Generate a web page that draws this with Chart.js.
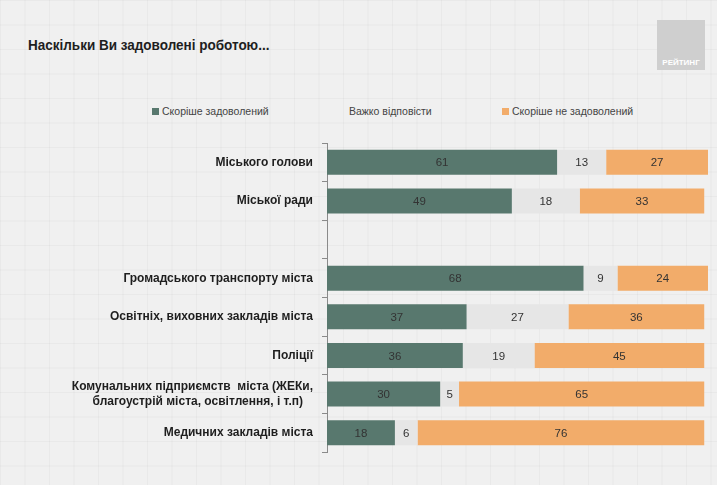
<!DOCTYPE html>
<html>
<head>
<meta charset="utf-8">
<script src="https://cdn.jsdelivr.net/npm/chart.js@4.4.1/dist/chart.umd.min.js"></script>
<style>
  html, body { margin: 0; padding: 0; }
  body {
    width: 717px; height: 485px; position: relative; overflow: hidden;
    background-color: #f0f0f0;
    background-image:
      linear-gradient(to right, rgba(0,0,0,0.03) 1px, transparent 1px),
      linear-gradient(to bottom, rgba(0,0,0,0.03) 1px, transparent 1px);
    background-size: 24.5px 24.5px;
    font-family: "Liberation Sans", Arial, sans-serif;
  }
  #title { position: absolute; left: 28px; top: 36px; font-size: 15px; font-weight: bold; color: #1e1e1e;
           transform: scaleX(0.9); transform-origin: left top; white-space: nowrap; }
  #logo { position: absolute; left: 657px; top: 20px; width: 48px; height: 50px; background: #cfcfcf; }
  #logo span { position: absolute; bottom: 3px; left: 0; right: 0; text-align: center; color: #fff; font-size: 8px; font-weight: bold; }
  .lg { position: absolute; top: 105px; font-size: 10.5px; color: #444; white-space: nowrap; }
  .lg i { display: inline-block; width: 7px; height: 7px; margin-right: 3px; vertical-align: 0px; }
  #grafica { position: absolute; left: 0; top: 0; }
</style>
</head>
<body>
<div id="title">Наскільки Ви задоволені роботою...</div>
<div id="logo"><span>РЕЙТИНГ</span></div>
<div id="legend"></div>
<canvas id="grafica" width="717" height="485"></canvas>
<script>
var categorias = [
  'Міського голови',
  'Міської ради',
  '',
  'Громадського транспорту міста',
  'Освітніх, виховних закладів міста',
  'Поліції',
  ['Комунальних підприємств  міста (ЖЕКи,', 'благоустрій міста, освітлення, і т.п)   '],
  'Медичних закладів міста'
];
var series = ['Скоріше задоволений', 'Важко відповісти', 'Скоріше не задоволений'];
var satisfied   = [61, 49, null, 68, 37, 36, 30, 18];
var hardToSay   = [13, 18, null,  9, 27, 19,  5,  6];
var unsatisfied = [27, 33, null, 24, 36, 45, 65, 76];
var colores = ['rgb(88, 120, 110)', 'rgb(230, 230, 230)', 'rgb(242, 172, 106)'];

// legend as plain text above the plot
var legendX = [152, 349, 502];
var leyenda = document.getElementById('legend');
for (var i = 0; i < series.length; i++) {
  var d = document.createElement('div');
  d.className = 'lg';
  d.style.left = legendX[i] + 'px';
  d.innerHTML = (i === 1 ? '' : '<i style="background:' + colores[i] + '"></i>') + series[i];
  leyenda.appendChild(d);
}

// numbers in the middle of each segment
var etiquetas = {
  id: 'etiquetas',
  afterDatasetsDraw: function (chart) {
    var ctx = chart.ctx;
    ctx.save();
    ctx.font = '11.5px "Liberation Sans", Arial';
    ctx.fillStyle = '#333';
    ctx.textAlign = 'center';
    ctx.textBaseline = 'middle';
    chart.data.datasets.forEach(function (ds, k) {
      var meta = chart.getDatasetMeta(k);
      meta.data.forEach(function (bar, j) {
        var v = ds.data[j];
        if (v == null) return;
        ctx.fillText(v, (bar.x + bar.base) / 2, bar.y + 1);
      });
    });
    ctx.restore();
  }
};

var datos = [satisfied, hardToSay, unsatisfied];
var myChart = new Chart(document.getElementById('grafica'), {
  type: 'bar',
  data: {
    labels: categorias,
    datasets: datos.map(function (d, k) {
      return {
        label: series[k],
        data: d,
        backgroundColor: colores[k],
        borderWidth: 0,
        categoryPercentage: 1,
        barPercentage: 0.65
      };
    })
  },
  options: {
    indexAxis: 'y',
    responsive: false,
    animation: false,
    devicePixelRatio: 1,
    layout: { padding: { left: 10, top: 143, right: 9, bottom: 33 } },
    plugins: { legend: { display: false }, tooltip: { enabled: false } },
    scales: {
      x: { stacked: true, display: false, min: 0, max: 101 },
      y: {
        stacked: true,
        afterFit: function (s) { s.width = 317; },
        border: { display: true, color: '#8a8a8a', width: 1 },
        grid: { display: true, drawOnChartArea: false, offset: true, tickLength: 5, color: '#8a8a8a' },
        ticks: {
          color: '#1e1e1e',
          padding: 9,
          font: { family: '"Liberation Sans", Arial', size: 12, weight: 'bold', lineHeight: 1.25 }
        }
      }
    }
  },
  plugins: [etiquetas]
});
</script>
</body>
</html>
